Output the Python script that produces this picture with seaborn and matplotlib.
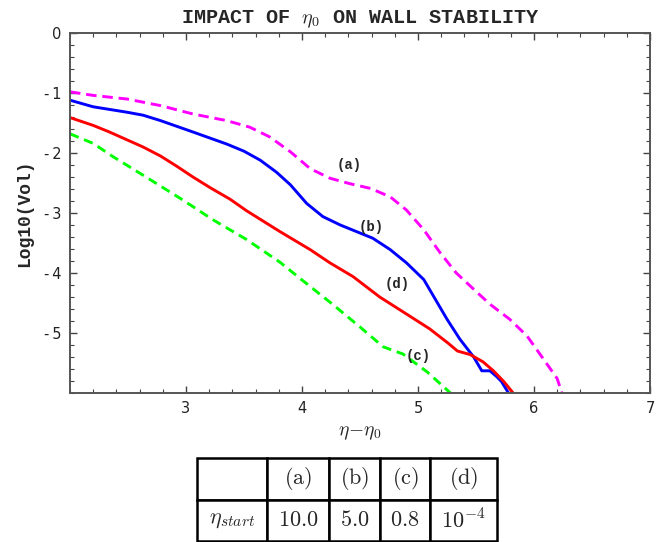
import numpy as np
import pandas as pd
import matplotlib
matplotlib.use("Agg")
import matplotlib.pyplot as plt
import seaborn as sns
from matplotlib.ticker import MultipleLocator

# ---- data ----
a_x = [2.0, 2.2, 2.49, 2.78, 3.06, 3.35, 3.55, 3.72, 3.90, 4.07, 4.24, 4.41, 4.59, 4.76, 4.90,
       5.05, 5.19, 5.33, 5.48, 5.62, 5.79, 5.94, 6.08, 6.2, 6.24]
a_y = [-0.98, -1.04, -1.10, -1.21, -1.35, -1.46, -1.57, -1.73, -1.98, -2.26, -2.42, -2.51, -2.59, -2.73, -2.95,
       -3.28, -3.66, -4.0, -4.27, -4.52, -4.77, -5.05, -5.43, -5.76, -6.0]

b_x = [2.0, 2.2, 2.49, 2.63, 2.78, 3.06, 3.35, 3.50, 3.64, 3.78, 3.90, 4.04, 4.18, 4.33, 4.47, 4.61, 4.76,
       4.90, 5.05, 5.15, 5.25, 5.36, 5.48, 5.55, 5.62, 5.68, 5.72, 5.78]
b_y = [-1.12, -1.23, -1.32, -1.37, -1.46, -1.65, -1.85, -1.97, -2.12, -2.32, -2.53, -2.84, -3.06, -3.20, -3.31, -3.42, -3.61,
       -3.83, -4.11, -4.44, -4.77, -5.10, -5.40, -5.63, -5.63, -5.73, -5.81, -6.0]

c_x = [2.0, 2.2, 2.37, 2.63, 2.97, 3.23, 3.52, 3.81, 3.97, 4.25, 4.5, 4.70, 4.87, 5.08, 5.28]
c_y = [-1.68, -1.84, -2.06, -2.37, -2.78, -3.11, -3.44, -3.82, -4.07, -4.5, -4.9, -5.23, -5.35, -5.65, -6.0]

d_x = [2.0, 2.2, 2.34, 2.63, 2.78, 2.92, 3.06, 3.21, 3.38, 3.52, 3.81, 4.07, 4.24, 4.44, 4.67,
       4.93, 5.10, 5.26, 5.34, 5.45, 5.56, 5.65, 5.74, 5.82]
d_y = [-1.41, -1.54, -1.65, -1.90, -2.05, -2.22, -2.40, -2.58, -2.77, -2.96, -3.31, -3.61, -3.83, -4.06, -4.40,
       -4.72, -4.93, -5.17, -5.30, -5.36, -5.48, -5.63, -5.81, -6.0]

labels = ["(a)", "(b)", "(c)", "(d)"]
label_x = [4.41, 4.60, 5.00, 4.82]
label_y = [-2.20, -3.23, -5.38, -4.19]

table_header = ["", r"$\mathrm{(a)}$", r"$\mathrm{(b)}$", r"$\mathrm{(c)}$", r"$\mathrm{(d)}$"]
table_row = [r"$\eta_{start}$", r"$\mathrm{10.0}$", r"$\mathrm{5.0}$", r"$\mathrm{0.8}$", r"$10^{-4}$"]

x_ticks = [3, 4, 5, 6, 7]
y_ticks = [0, -1, -2, -3, -4, -5]

# ---- figure ----
sns.set_style("white")
plt.rcParams["mathtext.fontset"] = "cm"

fig = plt.figure(figsize=(6.69, 5.42), dpi=100)
ax = fig.add_axes([70 / 669, 1 - 393 / 542, 580 / 669, 360 / 542])

series = [
    (a_x, a_y, "#FF00FF", (0, (3.6, 2.0))),
    (b_x, b_y, "#0000FF", "-"),
    (c_x, c_y, "#00FF00", (0, (3.2, 2.0))),
    (d_x, d_y, "#FF0000", "-"),
]
for xs, ys, col, ls in series:
    df = pd.DataFrame({"x": xs, "y": ys})
    sns.lineplot(data=df, x="x", y="y", ax=ax, color=col, linewidth=2.1,
                 linestyle=ls, sort=False, estimator=None)

for lab, lx, ly in zip(labels, label_x, label_y):
    ax.text(lx, ly, lab, family="Liberation Mono", fontweight="bold",
            fontsize=10, ha="center", va="center")

ax.set_xlim(2, 7)
ax.set_ylim(-6, 0)
ax.set_xticks(x_ticks)
ax.set_xticklabels([str(t) for t in x_ticks])
ax.set_yticks(y_ticks)
ax.set_yticklabels([str(t) if t == 0 else "-\u2009" + str(abs(t)) for t in y_ticks])
ax.xaxis.set_minor_locator(MultipleLocator(0.2))
ax.yaxis.set_minor_locator(MultipleLocator(0.2))
ax.tick_params(which="both", direction="in", top=True, right=True,
               bottom=True, left=True, colors="#444444", labelcolor="#222222",
               labelsize=10.5)
ax.tick_params(which="major", length=5, width=1, pad=6)
ax.tick_params(which="minor", length=3, width=0.8)
for s in ax.spines.values():
    s.set_color("#555555")
    s.set_linewidth(1.4)

ax.set_xlabel(r"$\eta\!-\!\eta_0$", fontsize=14, labelpad=5)
ax.set_ylabel("Log10(Vol)", family="Liberation Mono", fontweight="bold",
              fontsize=13, labelpad=8)
ax.set_title(r"IMPACT OF $\eta_0$ ON WALL STABILITY", family="Liberation Mono",
             fontweight="bold", fontsize=14.5, pad=7)

# ---- table ----
tax = fig.add_axes([197 / 669, 1 - 541 / 542, 300 / 669, 83 / 542])
tax.axis("off")
widths = [70, 62, 51, 50, 67]
tot = sum(widths)
tbl = tax.table(cellText=[table_header, table_row], bbox=[0, 0, 1, 1],
                colWidths=[w / tot for w in widths], cellLoc="center")
tbl.auto_set_font_size(False)
for (r, c), cell in tbl.get_celld().items():
    cell.set_linewidth(1.8)
    cell.set_edgecolor("black")
    cell.get_text().set_fontsize(16)

fig.savefig("out.png", dpi=100)
